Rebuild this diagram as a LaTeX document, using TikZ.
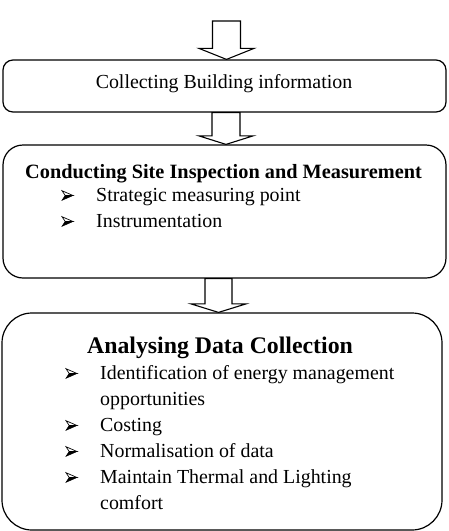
\documentclass[tikz,border=0pt]{standalone}
\usepackage{fontspec}
\setmainfont{Liberation Serif}
\usetikzlibrary{calc}
\tikzset{
  box/.style={draw=black, line width=1.2pt, fill=white, inner sep=0pt},
  barrow/.style={draw=black, line width=1.1pt, fill=white, line join=miter},
  txt/.style={anchor=base west, inner sep=0pt, font=\fontsize{19.9}{24}\selectfont},
  ttl/.style={anchor=base west, inner sep=0pt, font=\fontsize{20.3}{24}\selectfont\bfseries},
  bulhead/.pic={
    \filldraw[draw=black, fill=white, line width=0.7pt, line join=miter] (0,-4.8) -- (11,0) -- (3.2,0) -- cycle;
    \filldraw[draw=black, fill=black, line width=0.5pt, line join=miter] (3.2,0) -- (11,0) -- (0,4.8) -- cycle;
  },
}
\newcommand{\blockarrow}[5]{%
  \draw[barrow] let \p1=(#1), \p2=(#2) in
    (\x2-#3,\y1) -- (\x2+#3,\y1) -- (\x2+#3,\y2+#5) -- (\x2+#4,\y2+#5)
    -- (\x2,\y2) -- (\x2-#4,\y2+#5) -- (\x2-#3,\y2+#5) -- cycle;}
\begin{document}
\begin{tikzpicture}[x=1pt,y=-1pt]
\useasboundingbox (0,0) rectangle (449,531);
% boxes
\node[box, rounded corners=10pt, minimum width=443pt, minimum height=52pt] (b1) at (224.5,86) {};
\node[box, rounded corners=20pt, minimum width=443pt, minimum height=133pt] (b2) at (224.5,211.5) {};
\node[box, rounded corners=30pt, minimum width=440pt, minimum height=217pt] (b3) at (222,421.5) {};
% arrows
\coordinate (a1s) at (226.5,21);
\coordinate (a1e) at (b1.north -| a1s);
\coordinate (a2x) at (226,0);
\coordinate (a2s) at (b1.south -| a2x);
\coordinate (a2e) at (b2.north -| a2x);
\coordinate (a3x) at (218.5,0);
\coordinate (a3s) at (b2.south -| a3x);
\coordinate (a3e) at (b3.north -| a3x);
\blockarrow{a1s}{a1e}{14pt}{27.5pt}{11pt}
\blockarrow{a2s}{a2e}{14pt}{27pt}{8.5pt}
\blockarrow{a3s}{a3e}{13.5pt}{27.5pt}{8.5pt}
% box 1 text
\node[anchor=base, inner sep=0pt, font=\fontsize{19.9}{24}\selectfont] (t1) at (224,88) {Collecting Building information};
% box 2 text
\node[ttl] (t2) at (25,178) {Conducting Site Inspection and Measurement};
\pic (b2i1) at (62,195.5) {bulhead};
\node[txt] (t2i1) at (96,201) {Strategic measuring point};
\pic (b2i2) at (62,221.5) {bulhead};
\node[txt] (t2i2) at (96,227) {Instrumentation};
% box 3 text
\node[anchor=base, inner sep=0pt, font=\fontsize{23.8}{28}\selectfont\bfseries] (t3) at (220,353) {Analysing Data Collection};
\pic (b3i1) at (66,373.5) {bulhead};
\node[txt] (t3i1) at (100,379) {Identification of energy management};
\node[txt] (t3i1b) at (100,405) {opportunities};
\pic (b3i2) at (66,425.5) {bulhead};
\node[txt] (t3i2) at (100,431) {Costing};
\pic (b3i3) at (66,451.5) {bulhead};
\node[txt] (t3i3) at (100,457) {Normalisation of data};
\pic (b3i4) at (66,477.5) {bulhead};
\node[txt] (t3i4) at (100,483) {Maintain Thermal and Lighting};
\node[txt] (t3i4b) at (100,509) {comfort};
\end{tikzpicture}
\end{document}
